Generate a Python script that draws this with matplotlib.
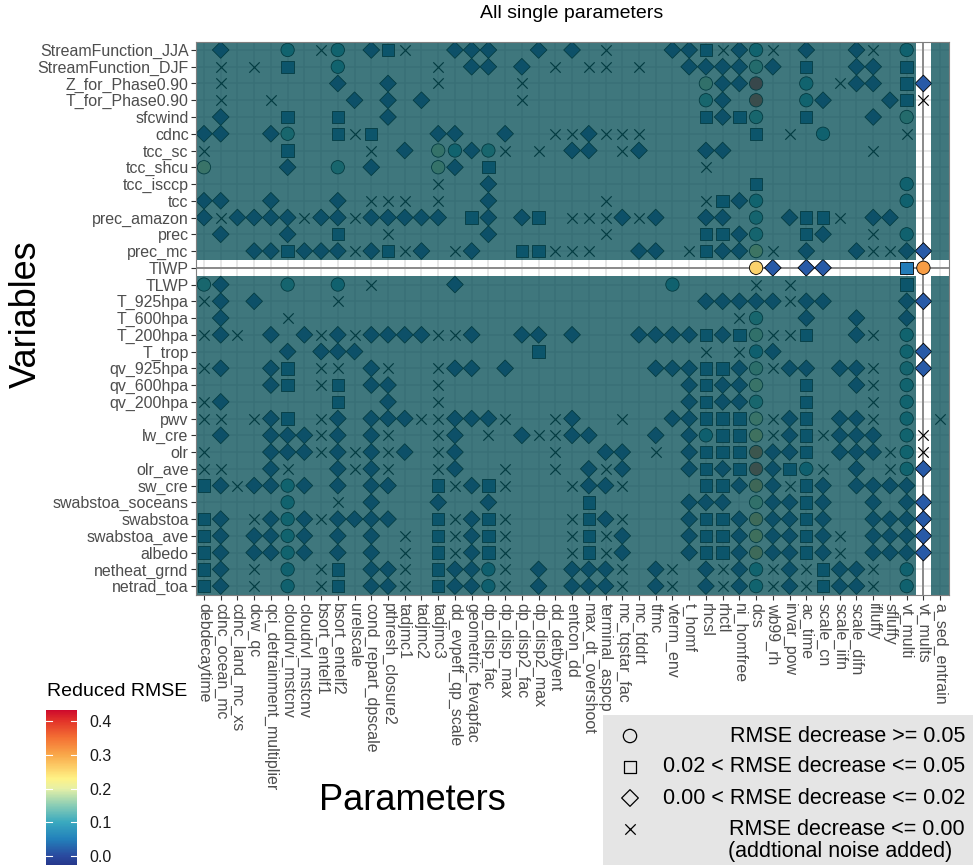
import matplotlib
matplotlib.use("Agg")
import matplotlib.pyplot as plt
import numpy as np
from matplotlib.colors import LinearSegmentedColormap, Normalize
from matplotlib.patches import Rectangle
from matplotlib.cm import ScalarMappable

plt.rcParams["font.family"] = ["Liberation Sans", "DejaVu Sans"]

PARAMETERS = [
    "debdecaytime", "cdnc_ocean_mc", "cdnc_land_mc_xs", "dcw_qc",
    "qci_detrainment_multiplier", "cloudrvi_mstcnv", "cloudrvl_mstcnv",
    "bsort_entelf1", "bsort_entelf2", "urelscale", "cond_repart_dpscale",
    "pthresh_closure2", "tadjmc1", "tadjmc2", "tadjmc3", "dd_evpeff_qp_scale",
    "geometric_fevapfac", "dp_disp_fac", "dp_disp_max", "dp_disp2_fac",
    "dp_disp2_max", "dd_detbyent", "entcon_dd", "max_dt_overshoot",
    "terminal_aspcp", "mc_tqstar_fac", "mc_fddrt", "tfmc", "vterm_env",
    "t_homf", "rhcsl", "rhctl", "ni_homfree", "dcs", "wb99_rh", "invar_pow",
    "ac_time", "scale_cn", "scale_iifn", "scale_difn", "ifluffy", "sfluffy",
    "vt_multi", "vt_mults", "a_sed_entrain",
]

VARIABLES = [
    "StreamFunction_JJA", "StreamFunction_DJF", "Z_for_Phase0.90",
    "T_for_Phase0.90", "sfcwind", "cdnc", "tcc_sc", "tcc_shcu", "tcc_isccp",
    "tcc", "prec_amazon", "prec", "prec_mc", "TIWP", "TLWP", "T_925hpa",
    "T_600hpa", "T_200hpa", "T_trop", "qv_925hpa", "qv_600hpa", "qv_200hpa",
    "pwv", "lw_cre", "olr", "olr_ave", "sw_cre", "swabstoa_soceans",
    "swabstoa", "swabstoa_ave", "albedo", "netheat_grnd", "netrad_toa",
]

# one character per parameter:
# o: decrease >= 0.05, s: 0.02-0.05, d: 0-0.02, x: <= 0 (noise), .: nothing
SHAPES = [
    ".d...o.xo." "dsx..ddd.." "d.d.x...dd" "sxdox.d..d" "x.o..",
    ".x.x.s..o." "....x.dd.d" ".x.xx.x..d" "dddod.s..d" "d.s..",
    ".x......d." ".d..x....x" ".........." "oddo..o.xd" "d.sd.",
    ".x..x....d" ".d.d.....x" ".........." "od.o..od.." ".dsx.",
    ".d...s..s." ".d........" ".........." "sdso..s..." "d.o..",
    "dd..do..sx" "s...dd..d." ".xxdxxx..." "...s.x.o.." "..x..",
    "x....s...." "x.d.oodox." "x.dd.xd..." "dd........" "x....",
    "o....d..o." "d...od.s.." ".........." "x........." ".....",
    ".........." "....x..d.." ".........." "...s......" "..o..",
    "dd..d...d." "xxx.x..d.." "....x....." "xsdo......" "..o..",
    "dxddddxddx" "ddddd.sd.d" "s.xxxdxd.." "dd.o.dssx." "dd...",
    ".d...d..s." ".x.....d.." "....x....." "ssdo..sd.." "x.o..",
    "...ddsdddx" "dsxd.xd..s" "sxxx..dd.x" "sddox.d..d" "xxdd.",
    ".........." ".........." ".........." "...od.dd.." "..so.",
    "od...o..o." "x....d...." "........o." "...x.x...." "..s..",
    "xd.d....x." ".........." ".........." "dddddxdd.." "..dd.",
    ".d...x...." ".........." ".........." "..xo..d..d" "..d..",
    "xdx.d.dxdx" "ddddxxd..d" "d.d...dddd" "sdsoxxs..d" "x.o..",
    ".....d.ddd" ".........." "s........." "x.xod....." "..od.",
    "xd..ds.xx." "dx..xdd.d." ".......ddd" "ssdoxdd.dd" "x.od.",
    "....ds.xs." "dd..x....." ".........d" "sddo..s..d" "x.o..",
    "xd......s." ".d..x....." ".........d" "sddo..s..." "x.o..",
    "xx.xds.xd." "dddxxdddx." ".xd..x..dd" "sssoxds.dd" "x.o.x",
    ".d..dddxd." "dx..xd.x.d" "xxdd...d.d" "ossoxdsxdd" "d.ox.",
    "x...dddxdx" "dxd.xd...." ".x..dd.x.d" "sssodds.dd" "dxox.",
    "xx..dx..dx" "dx..xd..x." ".x.dxd...d" "sdsodsox.d" ".xod.",
    "sdxddod.d." "dd..sxdsx." "..xddx...." "ssdodxsd.d" "ddd..",
    ".....o..x." "d...d..d.." "...s.....d" "dd.oddsd.." "d.dd.",
    "sd.xdodxdd" "dd..sxdsx." "..xsdx...d" "ssdoddsd.." "dddd.",
    "sd.ddod.d." "d.x.sxdsx." "..xsxd...d" "ssdoddsdx." "dddd.",
    "sd.ddod.d." "d.x.sxdsx." "..xsxd...d" "ssdoddsdx." "dddd.",
    "sd.x.o.xs." "ddx.sddox." "d.dddx.dx." "dxdoxdxsdd" "x.o..",
    "sd.x.o.xs." "ddx.sddox." "d.dddx.dx." "dxdoxdxsdd" "x.o..",
]

# reduced RMSE of each circle, left to right in its row
CIRCLE_VALUES = [
    [0.10, 0.10, 0.10, 0.09], [0.10, 0.15], [0.18, 0.40, 0.10],
    [0.12, 0.38, 0.10], [0.12, 0.15], [0.12, 0.09], [0.19, 0.10, 0.12],
    [0.20, 0.12, 0.19], [0.09], [0.10, 0.09], [0.11], [0.11, 0.09], [0.22],
    [0.26, 0.31], [0.12, 0.11, 0.09, 0.09], [], [0.12], [0.18, 0.10],
    [0.08, 0.10], [0.17, 0.11], [0.20, 0.10], [0.12, 0.10], [0.20, 0.10],
    [0.08, 0.24, 0.10], [0.35, 0.10], [0.37, 0.08, 0.10], [0.10, 0.28],
    [0.10, 0.18], [0.10, 0.27], [0.10, 0.25], [0.10, 0.27],
    [0.09, 0.08, 0.10, 0.09], [0.09, 0.08, 0.10, 0.09],
]
SQUARE_VALUE = 0.035
DIAMOND_VALUE = 0.015

HIGHLIGHT_VAR = "TIWP"
HIGHLIGHT_PAR = "vt_mults"

# colour scale, (value, colour)
CMAP_STOPS = [
    (-0.027, "#26388C"), (0.0, "#2A4A9F"), (0.05, "#2381BB"), (0.10, "#3AA9BF"),
    (0.15, "#8ACDB5"), (0.20, "#E6F0A6"), (0.23, "#FFF285"), (0.30, "#F9A84A"),
    (0.35, "#F47134"), (0.40, "#E33529"), (0.433, "#CE0A2C"),
]
VMIN, VMAX = CMAP_STOPS[0][0], CMAP_STOPS[-1][0]
OVERLAY = "#054E56"

W, H = 973, 865


def fx(px):
    return px / W


def fy(py):
    return 1 - py / H


def main():
    stops = [((v - VMIN) / (VMAX - VMIN), c) for v, c in CMAP_STOPS]
    cmap = LinearSegmentedColormap.from_list("rmse", stops)
    norm = Normalize(VMIN, VMAX)

    npar, nvar = len(PARAMETERS), len(VARIABLES)
    fig = plt.figure(figsize=(W / 100, H / 100), dpi=100)
    ax = fig.add_axes([fx(195.6), fy(594.5), fx(948.5) - fx(195.6), fy(41.6) - fy(594.5)])
    ax.set_xlim(-0.5, npar - 0.5)
    ax.set_ylim(nvar - 0.5, -0.5)

    ax.set_xticks(range(npar))
    ax.set_xticklabels(PARAMETERS, rotation=270, fontsize=11.5, color="#4D4D4D")
    ax.set_yticks(range(nvar))
    ax.set_yticklabels(VARIABLES, fontsize=11.5, color="#4D4D4D")
    ax.tick_params(length=3.5, width=0.8, color="#333333", pad=1.5)
    ax.tick_params(axis="x", pad=2.5)
    ax.grid(True, color="#E2E2E2", lw=1.1, zorder=0)
    ax.set_axisbelow(True)
    for sp in ax.spines.values():
        sp.set_color("#7F7F7F")
        sp.set_linewidth(0.8)
        sp.set_zorder(5)

    hr = VARIABLES.index(HIGHLIGHT_VAR)
    hc = PARAMETERS.index(HIGHLIGHT_PAR)
    ax.axhline(hr, color="#8A8A8A", lw=1.4, zorder=1)
    ax.axvline(hc, color="#8A8A8A", lw=1.4, zorder=1)

    pts = {k: ([], [], []) for k in "osdx"}
    for r, (row, cvals) in enumerate(zip(SHAPES, CIRCLE_VALUES)):
        assert len(row) == npar, (r, len(row))
        assert row.count("o") == len(cvals), r
        it = iter(cvals)
        for c, ch in enumerate(row):
            if ch == ".":
                continue
            if ch == "o":
                v = next(it)
            elif ch == "s":
                v = SQUARE_VALUE + (0.01 if r == hr else 0.0)
            else:
                v = DIAMOND_VALUE
            pts[ch][0].append(c)
            pts[ch][1].append(r)
            pts[ch][2].append(v)

    for ch, mk, size in (("o", "o", 92), ("s", "s", 80), ("d", "D", 72)):
        xs, ys, vs = pts[ch]
        ax.scatter(xs, ys, c=vs, cmap=cmap, norm=norm, marker=mk, s=size,
                   edgecolors="black", linewidths=0.6, zorder=2)
    xs, ys, _ = pts["x"]
    ax.scatter(xs, ys, marker="x", s=56, c="black", linewidths=0.85, zorder=2)

    # dimming layer everywhere but the highlighted row and column
    h = 0.47
    x0, x1 = -0.5, npar - 0.5
    y0, y1 = -0.5, nvar - 0.5
    for (a, b) in ((x0, hc - h), (hc + h, x1)):
        for (c, d) in ((y0, hr - h), (hr + h, y1)):
            ax.add_patch(Rectangle((a, c), b - a, d - c, facecolor=OVERLAY,
                                   alpha=0.77, lw=0, zorder=3))

    fig.text(fx(572), fy(14), "All single parameters", fontsize=14,
             ha="center", va="center")
    fig.text(fx(412), fy(800), "Parameters", fontsize=26, ha="center", va="center")
    fig.text(fx(26), fy(314), "Variables", fontsize=26, rotation=90,
             ha="center", va="center")

    # colour bar
    cax = fig.add_axes([fx(46), fy(865), fx(77) - fx(46), fy(710) - fy(865)])
    cb = fig.colorbar(ScalarMappable(norm=norm, cmap=cmap), cax=cax)
    cb.outline.set_visible(False)
    ticks = [0.0, 0.1, 0.2, 0.3, 0.4]
    cb.set_ticks(ticks)
    cb.set_ticklabels([f"{t:.1f}" for t in ticks])
    cax.tick_params(labelsize=11.5, length=0, pad=9, labelcolor="#1A1A1A")
    for t in ticks:
        cax.plot([0, 0.18], [t, t], color="white", lw=0.8, transform=cax.get_yaxis_transform())
        cax.plot([0.82, 1], [t, t], color="white", lw=0.8, transform=cax.get_yaxis_transform())
    fig.text(fx(47), fy(692), "Reduced RMSE", fontsize=14, ha="left", va="center")

    # shape legend
    lax = fig.add_axes([fx(603), 0, 1 - fx(603), fy(715)])
    lax.set_xlim(603, W)
    lax.set_ylim(H, 715)
    lax.set_axis_off()
    lax.add_patch(Rectangle((603, 715), W - 603, H - 715, facecolor="#E5E5E5",
                            lw=0, zorder=0))
    entries = [
        ("o", 92, 736, ["RMSE decrease >= 0.05"]),
        ("s", 80, 767, ["0.02 < RMSE decrease <= 0.05"]),
        ("D", 72, 798, ["0.00 < RMSE decrease <= 0.02"]),
        ("x", 56, 829, ["RMSE decrease <= 0.00", "(addtional noise added)"]),
    ]
    for mk, size, y, lines in entries:
        if mk == "x":
            lax.scatter([630], [y], marker=mk, s=size, c="black", linewidths=0.9)
        else:
            lax.scatter([630], [y], marker=mk, s=size, facecolors="none",
                        edgecolors="black", linewidths=0.9)
        lax.text(965, y, lines[0], fontsize=15.5, ha="right", va="center")
        if len(lines) > 1:
            lax.text(952, y + 22, lines[1], fontsize=15.5, ha="right", va="center")

    fig.savefig("out.png", dpi=100)


if __name__ == "__main__":
    main()
